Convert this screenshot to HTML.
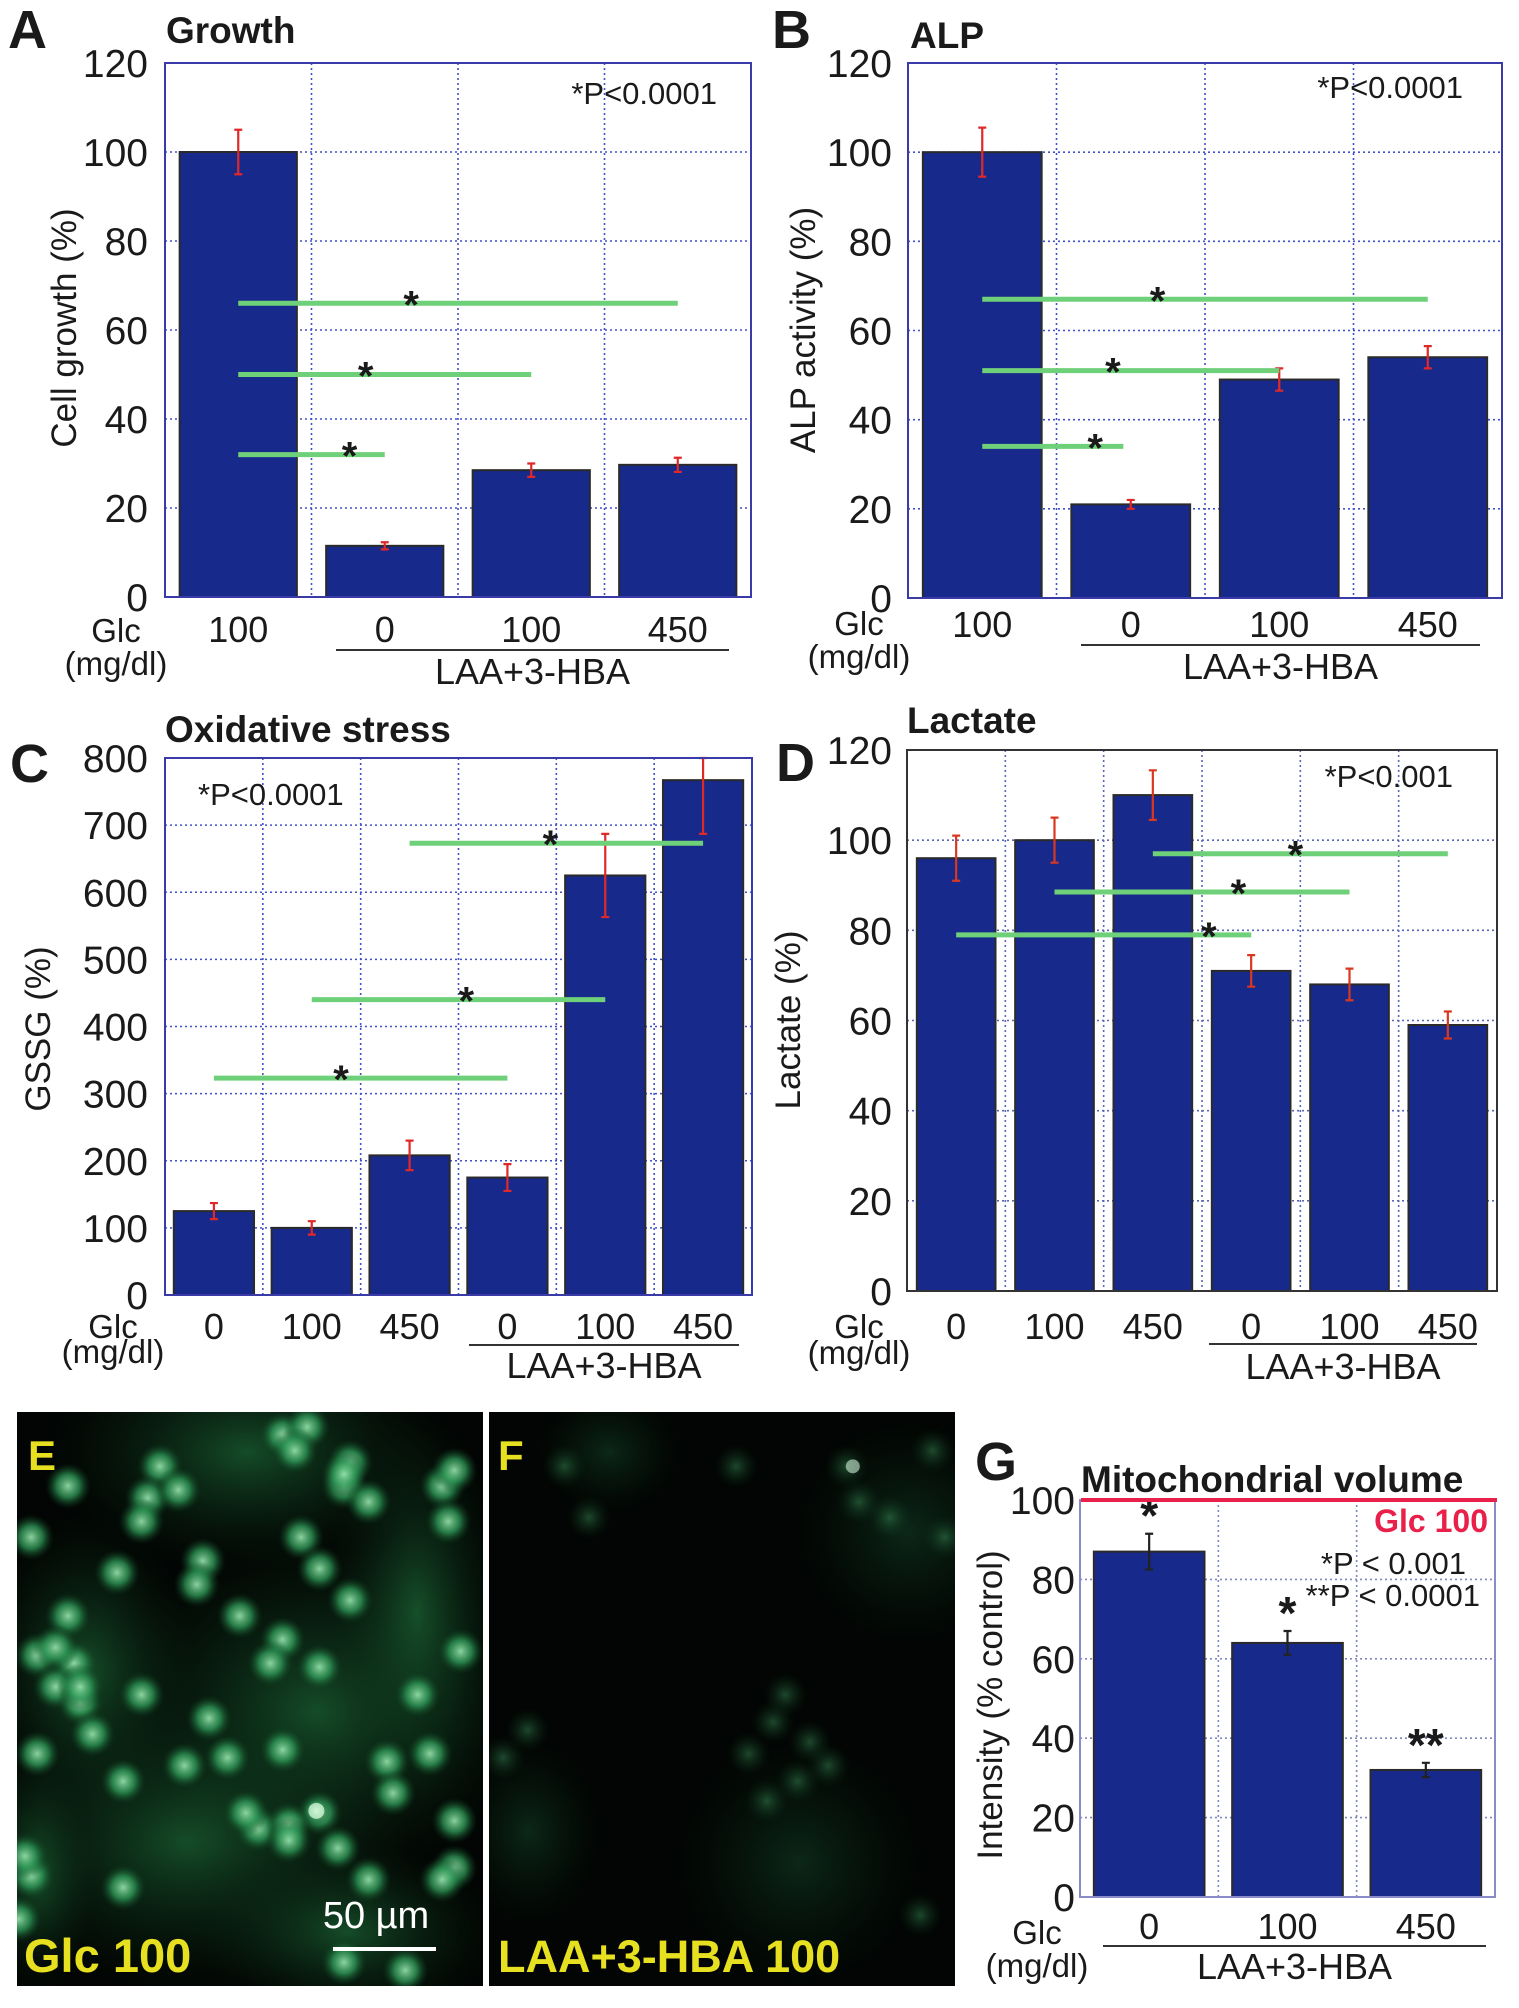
<!DOCTYPE html>
<html><head><meta charset="utf-8"><style>
html,body{margin:0;padding:0;background:#fff;}
svg{display:block;font-family:"Liberation Sans",Arial,sans-serif;}
</style></head><body>
<svg id="fig" width="1519" height="2008" viewBox="0 0 1519 2008" xmlns="http://www.w3.org/2000/svg">
<defs>
<radialGradient id="cellE"><stop offset="0" stop-color="#9be8b0" stop-opacity="0.9"/><stop offset="0.5" stop-color="#2f9a58" stop-opacity="0.75"/><stop offset="1" stop-color="#0c3a1c" stop-opacity="0"/></radialGradient>
<radialGradient id="glowE"><stop offset="0" stop-color="#1d6a38" stop-opacity="0.7"/><stop offset="1" stop-color="#0a2a14" stop-opacity="0"/></radialGradient>
<radialGradient id="cellF"><stop offset="0" stop-color="#3f9a60" stop-opacity="0.45"/><stop offset="1" stop-color="#0c3a1c" stop-opacity="0"/></radialGradient>
<radialGradient id="glowF"><stop offset="0" stop-color="#14432a" stop-opacity="0.55"/><stop offset="1" stop-color="#0a2a14" stop-opacity="0"/></radialGradient>
</defs>
</svg>
<script>
// ===== Chart data =====
const catsA = ["100","0","100","450"];
const valsA = [100, 11.5, 28.5, 29.7];
const errA  = [5, 0.8, 1.5, 1.6];
const sigYA = [66, 50, 32];
const sigFromA = [0, 0, 0];
const sigToA = [3, 2, 1];
const sigStarA = [1.18, 0.87, 0.76];
const ticksA = [0,20,40,60,80,100,120];

const catsB = ["100","0","100","450"];
const valsB = [100, 21, 49, 54];
const errB  = [5.5, 1, 2.5, 2.5];
const sigYB = [67, 51, 34];
const sigFromB = [0, 0, 0];
const sigToB = [3, 2, 0.95];
const sigStarB = [1.18, 0.88, 0.76];
const ticksB = [0,20,40,60,80,100,120];

const catsC = ["0","100","450","0","100","450"];
const valsC = [125, 100, 208, 175, 625, 767];
const errC  = [12, 10, 22, 20, 62, 80];
const sigYC = [323, 440, 673];
const sigFromC = [0, 1, 2];
const sigToC = [3, 4, 5];
const sigStarC = [1.3, 2.58, 3.44];
const ticksC = [0,100,200,300,400,500,600,700,800];

const catsD = ["0","100","450","0","100","450"];
const valsD = [96, 100, 110, 71, 68, 59];
const errD  = [5, 5, 5.5, 3.5, 3.5, 3];
const sigYD = [97, 88.5, 79];
const sigFromD = [2, 1, 0];
const sigToD = [5, 4, 3];
const sigStarD = [3.45, 2.87, 2.57];
const ticksD = [0,20,40,60,80,100,120];

const catsG = ["0","100","450"];
const valsG = [87, 64, 32];
const errG  = [4.5, 3, 1.8];
const starsG = ["*","*","**"];
const ticksG = [0,20,40,60,80,100];

const NS = "http://www.w3.org/2000/svg";
const svg = document.getElementById('fig');
function mk(tag, attrs, parent){
  const e = document.createElementNS(NS, tag);
  for (const k in attrs) e.setAttribute(k, attrs[k]);
  (parent||svg).appendChild(e);
  return e;
}
function txt(s, x, y, size, opts, parent){
  opts = opts||{};
  const e = mk('text', {x:x, y:y, 'font-size':size, fill:opts.fill||'#1a1a1a', 'text-anchor':opts.anchor||'start', 'font-weight':opts.bold?'bold':'normal'}, parent);
  if (opts.rot) e.setAttribute('transform', 'rotate(-90 '+x+' '+y+')');
  e.textContent = s;
  return e;
}

function chart(c){
  const g = mk('g', {});
  
  
  const n = c.cats.length;
  const L=c.L, R=c.R, T=c.T, B=c.B;
  const step = (R-L)/n;
  const xc = i => L + step*(i+0.5);
  const ymax = c.ticks[c.ticks.length-1];
  const y = v => B - (v/ymax)*(B-T);
  const bw = step*c.bwFrac;
  c.ticks.forEach(t=>{
    if (t===0 || t===ymax) return;
    const gl = mk('line', {x1:L, x2:R, y1:y(t), y2:y(t), stroke:c.gridColor, 'stroke-width':1.6, 'stroke-dasharray':'2 3'}, g);
    
    
  });
  for (let i=1;i<n;i++){
    const gl = mk('line', {x1:L+step*i, x2:L+step*i, y1:T, y2:B, stroke:c.gridColor, 'stroke-width':1.6, 'stroke-dasharray':'2 3'}, g);
    
    
  }
  c.vals.forEach((v,i)=>{
    const r = mk('rect', {x:xc(i)-bw/2, y:y(v), width:bw, height:B-y(v), fill:'#18298c', stroke:'#2a2a2a', 'stroke-width':2}, g);
    
    
    const e = c.errs[i];
    const ec = c.errColor;
    const top = Math.max(y(v+e), T);
    const eb = mk('path', {d:'M'+xc(i)+' '+top+' V'+y(v-e)+' M'+(xc(i)-4)+' '+top+' H'+(xc(i)+4)+' M'+(xc(i)-4)+' '+y(v-e)+' H'+(xc(i)+4), stroke:ec, 'stroke-width':2.2, fill:'none'}, g);
    
    
  });
  const fr = mk('rect', {x:L, y:T, width:R-L, height:B-T, fill:'none', stroke:c.frameColor, 'stroke-width':2}, g);
  
  
  if (c.sigY){
    c.sigY.forEach((sv,k)=>{
      const x1 = xc(c.sigFrom[k]), x2 = xc(c.sigTo[k]);
      const ln = mk('line', {x1:x1, x2:x2, y1:y(sv), y2:y(sv), stroke:'#6fd07a', 'stroke-width':5}, g);
      
      
      const st = txt('*', xc(c.sigStar[k]), y(sv)+15, 40, {anchor:'middle', bold:true}, g);
      
      
    });
  }
  c.ticks.forEach(t=>{
    const tl = txt(String(t), c.tickR, y(t)+14, 39, {anchor:'end'}, g);
    
    
  });
  c.cats.forEach((s,i)=>{
    const xl = txt(s, xc(i), c.xlabY, 36, {anchor:'middle'}, g);
    
    
  });
  return {xc, y, bw, g};
}

function deco(d){
  let e;
  e = txt(d.letter, d.lx, d.ly, 54, {bold:true});
  
  
  e = txt(d.title, d.tx, d.ty, 37, {bold:true});
  
  
  e = txt(d.ytitle, d.yx, d.yy, 35, {anchor:'middle', rot:true});
  
  
  e = txt('Glc', d.gx, d.gy, 33, {anchor:'middle'});
  
  
  e = txt('(mg/dl)', d.gx, d.my, 33, {anchor:'middle'});
  
  
  e = mk('line', {x1:d.u1, x2:d.u2, y1:d.uy, y2:d.uy, stroke:'#333', 'stroke-width':2});
  
  
  e = txt('LAA+3-HBA', (d.u1+d.u2)/2, d.lay, 36, {anchor:'middle'});
  
  
  if (d.p){
    e = txt(d.p, d.px, d.py, 31, {anchor:d.pa});
    
    
  }
}

chart({name:'chart-growth', cats:catsA, vals:valsA, errs:errA, ticks:ticksA, sigY:sigYA, sigFrom:sigFromA, sigTo:sigToA, sigStar:sigStarA,
  L:165, R:751, T:63, B:597, bwFrac:0.8, tickR:148, xlabY:642, gridColor:'#4050c8', frameColor:'#3a3aa8', errColor:'#e02828'});
deco({letter:'A', lx:8, ly:48, title:'Growth', tx:166, ty:43, ytitle:'Cell growth (%)', yx:76, yy:328,
  gx:116, gy:642, my:675, u1:336, u2:729, uy:650, lay:684, p:'*P<0.0001', px:717, py:104, pa:'end'});

chart({name:'chart-alp', cats:catsB, vals:valsB, errs:errB, ticks:ticksB, sigY:sigYB, sigFrom:sigFromB, sigTo:sigToB, sigStar:sigStarB,
  L:908, R:1502, T:63, B:598, bwFrac:0.8, tickR:892, xlabY:637, gridColor:'#4050c8', frameColor:'#3a3aa8', errColor:'#e02828'});
deco({letter:'B', lx:772, ly:48, title:'ALP', tx:910, ty:48, ytitle:'ALP activity (%)', yx:815, yy:330,
  gx:859, gy:635, my:668, u1:1081, u2:1480, uy:645, lay:679, p:'*P<0.0001', px:1463, py:98, pa:'end'});

chart({name:'chart-oxidative-stress', cats:catsC, vals:valsC, errs:errC, ticks:ticksC, sigY:sigYC, sigFrom:sigFromC, sigTo:sigToC, sigStar:sigStarC,
  L:165, R:752, T:758, B:1295, bwFrac:0.82, tickR:148, xlabY:1339, gridColor:'#4050c8', frameColor:'#3a3aa8', errColor:'#e02828'});
deco({letter:'C', lx:10, ly:782, title:'Oxidative stress', tx:165, ty:742, ytitle:'GSSG (%)', yx:50, yy:1029,
  gx:113, gy:1338, my:1363, u1:469, u2:739, uy:1345, lay:1378, p:'*P<0.0001', px:198, py:805, pa:'start'});

chart({name:'chart-lactate', cats:catsD, vals:valsD, errs:errD, ticks:ticksD, sigY:sigYD, sigFrom:sigFromD, sigTo:sigToD, sigStar:sigStarD,
  L:907, R:1497, T:750, B:1291, bwFrac:0.8, tickR:892, xlabY:1339, gridColor:'#5a66b8', frameColor:'#333333', errColor:'#d83820'});
deco({letter:'D', lx:776, ly:781, title:'Lactate', tx:907, ty:733, ytitle:'Lactate (%)', yx:800, yy:1020,
  gx:859, gy:1338, my:1364, u1:1209, u2:1477, uy:1344, lay:1379, p:'*P<0.001', px:1453, py:787, pa:'end'});

const gG = chart({name:'chart-mitochondrial-volume', cats:catsG, vals:valsG, errs:errG, ticks:ticksG,
  L:1080, R:1495, T:1500, B:1897, bwFrac:0.8, tickR:1075, xlabY:1939, gridColor:'#8088c0', frameColor:'#8a8ac8', errColor:'#222'});
starsG.forEach((s,i)=>{
  const e = txt(s, gG.xc(i), gG.y(valsG[i]+errG[i])-2, 46, {anchor:'middle', bold:true});
  
  
});
let eG = mk('line', {x1:1081, x2:1497, y1:gG.y(100), y2:gG.y(100), stroke:'#e8204a', 'stroke-width':4});


eG = txt('Glc 100', 1488, 1532, 32, {anchor:'end', bold:true, fill:'#e8204a'});


eG = txt('*P < 0.001', 1466, 1574, 31, {anchor:'end'});


eG = txt('**P < 0.0001', 1480, 1606, 31, {anchor:'end'});


deco({letter:'G', lx:975, ly:1480, title:'Mitochondrial volume', tx:1081, ty:1492, ytitle:'Intensity (% control)', yx:1002, yy:1705,
  gx:1037, gy:1944, my:1977, u1:1103, u2:1486, uy:1946, lay:1979});

function micro(x0, y0, w, h, name){
  const g = mk('g', {});
  
  
  const cp = mk('clipPath', {id:'clip-'+name}, g);
  mk('rect', {x:x0, y:y0, width:w, height:h}, cp);
  const inner = mk('g', {'clip-path':'url(#clip-'+name+')'}, g);
  const bg = mk('rect', {x:x0, y:y0, width:w, height:h, fill:'#020503'}, inner);
  
  
  return inner;
}
const gE = micro(17, 1412, 466, 574, 'micrograph-glc-100');
const glowsE = [[230,40,200,120],[300,300,220,180],[70,260,110,160],[170,430,220,150],[400,200,90,200],[20,460,60,120],[330,520,150,90]];
glowsE.forEach(p=>{ mk('ellipse', {cx:17+p[0], cy:1412+p[1], rx:p[2], ry:p[3], fill:'url(#glowE)'}, gE); });
const cellsE = [[460,120],[560,250],[570,190],[500,100],[260,200],[240,280],[290,260],[230,340],[110,250],[50,380],[490,380],[520,460],[570,540],[330,440],[320,500],[190,470],[390,580],[460,640],[440,700],[520,710],[110,580],[60,680],[120,700],[90,760],[130,800],[230,780],[340,840],[460,920],[370,940],[60,930],[200,1000],[520,1080],[420,1120],[470,1110],[400,1080],[630,950],[680,780],[750,670],[700,930],[740,1100],[740,1220],[720,1250],[550,1170],[50,1240],[40,1190],[200,1270],[720,250],[730,340],[740,210],[600,290],[560,1460],[660,1480],[30,1350],[600,1250],[640,1030],[300,960],[150,880],[480,160],[560,220],[90,660],[130,760],[470,1150]];
cellsE.forEach(p=>{ mk('circle', {cx:17+(p[0]-27)/1.63, cy:1412+(p[1]-62)/2.54, r:23, fill:'url(#cellE)'}, gE); });
mk('circle', {cx:17+(515-27)/1.63, cy:1412+(1075-62)/2.54, r:14, fill:'url(#cellE)'}, gE);
mk('circle', {cx:17+(515-27)/1.63, cy:1412+(1075-62)/2.54, r:8, fill:'#e8ffe8', opacity:0.7}, gE);
let eE = txt('E', 28, 1470, 42, {bold:true, fill:'#e6e020'});


eE = txt('Glc 100', 24, 1972, 47, {bold:true, fill:'#e6e020'});


eE = txt('50 µm', 376, 1928, 38, {anchor:'middle', fill:'#ffffff'});


eE = mk('line', {x1:333, x2:436, y1:1949, y2:1949, stroke:'#ffffff', 'stroke-width':4});



const gF = micro(489, 1412, 466, 574, 'micrograph-laa-3hba-100');
const glowsF = [[420,120,110,110],[310,450,120,120],[40,420,70,90],[120,40,70,60]];
glowsF.forEach(p=>{ mk('ellipse', {cx:489+p[0], cy:1412+p[1], rx:p[2], ry:p[3], fill:'url(#glowF)'}, gF); });
const cellsF = [[1380,200],[1520,160],[1450,330],[1400,290],[1260,850],[1220,930],[1320,900],[1300,1000],[860,870],[820,940],[1500,1340],[920,200],[960,330],[1200,200],[1540,380],[1280,780],[1350,960],[1250,1050]];
cellsF.forEach(p=>{ mk('circle', {cx:489+(p[0]-797)/1.63, cy:1412+(p[1]-62)/2.54, r:22, fill:'url(#cellF)'}, gF); });
mk('circle', {cx:489+(1390-797)/1.63, cy:1412+(200-62)/2.54, r:7, fill:'#cfeed8', opacity:0.6}, gF);
let eF = txt('F', 498, 1470, 42, {bold:true, fill:'#e6e020'});


eF = txt('LAA+3-HBA 100', 498, 1972, 45, {bold:true, fill:'#e6e020'});


</script>
</body></html>
